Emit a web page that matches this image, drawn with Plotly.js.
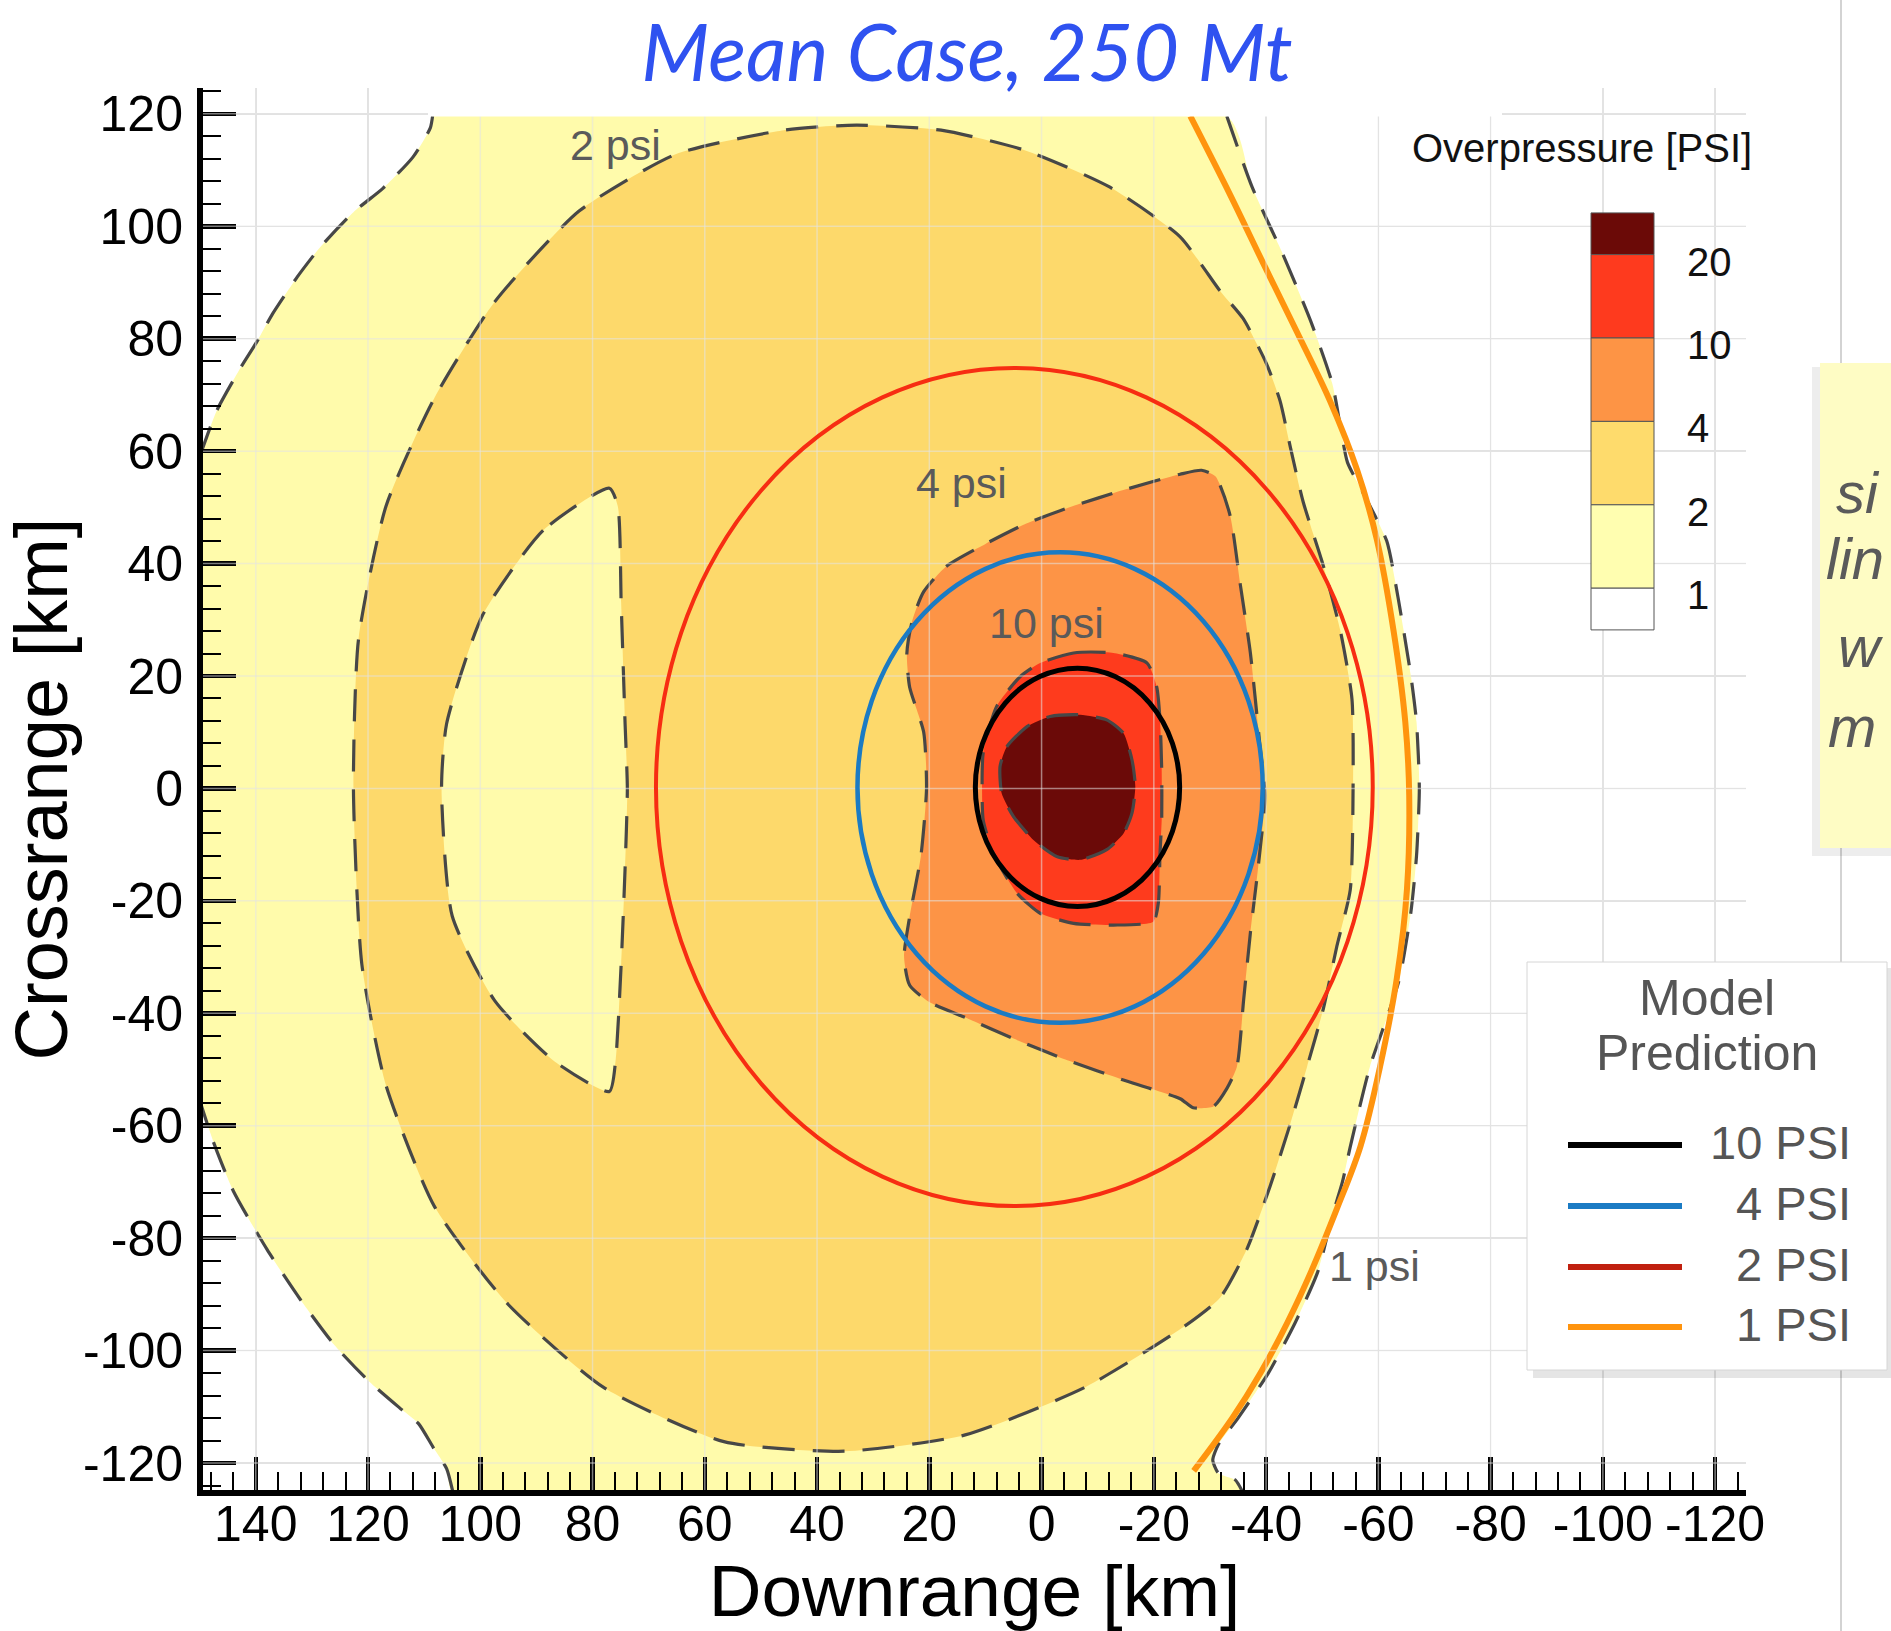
<!DOCTYPE html>
<html><head><meta charset="utf-8">
<script src="https://cdn.plot.ly/plotly-3.0.1.min.js"></script>
<style>html,body{margin:0;padding:0;background:#fff;}#chart{width:1891px;height:1631px;}</style>
</head><body><div id="chart"></div>
<script>
// ---------------- data (km) ----------------
const xTickVals = [140,120,100,80,60,40,20,0,-20,-40,-60,-80,-100,-120];
const xTickText = ['140','120','100','80','60','40','20','0','-20','-40','-60','-80','-100','-120'];
const yTickVals = [120,100,80,60,40,20,0,-20,-40,-60,-80,-100,-120];
const yTickText = ['120','100','80','60','40','20','0','-20','-40','-60','-80','-100','-120'];

// 1 psi contour (outer edge of the field), three pieces
const psi1TopLeftX = [150,146.9,142.6,139.9,136.9,132.6,128.5,122.6,117.3,112.0,108.9,108.5];
const psi1TopLeftY = [59,67.3,75.0,79.3,84.6,91.0,96.3,102.5,106.8,112.3,117.5,119.6];
const psi1RightX = [-33,-37.5,-43,-48,-51.8,-53.3,-54.5,-57.6,-61.5,-63.5,-65.8,-66.8,-67.3,-66.8,-65.8,-63.8,-61.8,-58.5,-55,-53.6,-51.8,-49.2,-45.2,-40.4,-35,-31.5,-30.5,-31.5,-34.5,-36];
const psi1RightY = [119.6,107,95,83,72,64,58,52,44,34,20,11.8,0,-12,-22,-33.7,-40,-49.5,-63.7,-70,-76,-86,-95,-104,-112,-116.7,-119.5,-121.8,-123,-125.5];
const psi1BottomLeftX = [104.8,106.0,108.4,111.0,114.0,120.0,126.0,132.0,138.0,144.0,147.5,150];
const psi1BottomLeftY = [-125.5,-121,-117.2,-113,-110.5,-105.3,-99,-91,-82,-71.6,-63,-55.5];

// 2 psi contour
const psi2X = [33,17.9,2.9,-12.1,-24.6,-31.8,-35.9,-40.1,-42.5,-44.3,-46.6,-50.2,-53.2,-55.3,-55.5,-55.0,-52.6,-50.2,-47.3,-44.3,-40.7,-36.6,-31.8,-25,-7.8,13.6,35.1,56.6,78.1,95.3,108.2,116.8,121.1,122.6,121.7,116.8,108.2,97.4,82.4,65.2,45.9];
const psi2Y = [118,117.1,113.5,107,98.2,88.5,83.6,75.5,68.9,60.8,51,39.6,28.2,15.9,0.4,-18,-28.1,-39.2,-49.5,-59.7,-70.8,-81.9,-90.6,-96,-106.5,-115,-117.9,-116.2,-106.5,-91.5,-74.3,-52.8,-31.3,0,26.5,50.2,69.4,86.6,102.7,112.8,117.1];

// lens of < 2 psi inside the 2 psi band
const lensX = [77,88.8,99.6,106,106.9,105,97.4,86.7,77,75.9,74.9,74.2,73.8,74.2,74.9,75.5];
const lensY = [53.4,45.9,30.8,11.5,0,-22.7,-37.8,-48.6,-53.9,-48.5,-31.3,-14.2,0,11.5,33,50.2];

// 4 psi contour
const psi4X = [21,17,10,3,-5,-15,-24.7,-28.5,-31,-33.6,-35.4,-37.2,-38.9,-39.8,-38.6,-37.2,-36,-34.8,-33,-30.6,-27,-24.7,-15,-5,5,13,20,23.5,24.5,23.5,21.5,20.5,21,23.5,24,23];
const psi4Y = [35,39.5,43.5,47,50,53.2,55.9,56.6,55.5,48.5,36.3,24.1,7.7,-1.3,-13.9,-25.7,-37.6,-49.5,-53.4,-56.6,-56.8,-55.2,-52,-48.5,-44.5,-41,-38,-35,-30,-22.8,-12,0,10,18,24,30];

// 10 psi contour
const psi10X = [0.25,-5.7,-12.8,-18.8,-20.5,-21.1,-21.4,-21.4,-21.1,-20.8,-19.9,-12.8,-5.7,0.25,4.4,8.6,10.4,10.6,10.4,8.0,3.8];
const psi10Y = [22.3,24.1,24.1,22.3,18.1,12.2,3.3,-5.6,-11.5,-20.4,-23.7,-24.3,-24.0,-22.2,-18.6,-11.5,-5.6,0.3,6.3,14.6,19.9];

// 20 psi contour
const psi20X = [7.4,6.2,2.6,-1.5,-6.9,-11.6,-14.6,-16.1,-16.7,-16.1,-14.6,-11.6,-6.9,-2.7,1.4,5.0,7.1];
const psi20Y = [3.9,7.4,11.0,12.8,13.1,12.2,9.8,5.1,0.3,-4.4,-8.0,-10.9,-12.7,-12.1,-9.2,-5.0,-0.9];

// model prediction curves
const modelNames = ['10 PSI','4 PSI','2 PSI','1 PSI'];
const ellipseX0 = [11.8, 32.8, 68.7];
const ellipseX1 = [-24.6, -39.4, -59.0];
const ellipseY0 = [-21.0, -41.7, -74.3];
const ellipseY1 = [21.4, 42.0, 74.8];
const model1X = [-26.5,-33.6,-39.5,-45.5,-51.4,-56.2,-59.7,-62.7,-64.8,-65.5,-65.1,-63.3,-60.3,-56.8,-52.6,-48.0,-43.8,-39.0,-34.0,-27.1];
const model1Y = [119.6,105.6,93.4,81.2,68.9,56.7,44.4,28.1,11.8,-1.3,-17.9,-33.7,-49.5,-63.7,-74.8,-86,-95,-104,-112,-121.4];

// contour labels
const labelText = ['2 psi','4 psi','10 psi','1 psi'];
const labelX = [75.9, 14.3, -0.9, -59.4];
const labelY = [114.5, 54.4, 29.4, -85];

// colour bar
const cbTitle = 'Overpressure [PSI]';
const cbLabels = ['20','10','4','2','1'];

// note on the right of the slide
const noteLines = ['si','lin','w','m'];

// ---------------- styles ----------------
const C = {light:'#FFFBAB', yel:'#FDD96B', org:'#FD9446', red:'#FE3B1D', dark:'#6B0A08'};
const cbColors = ['#6B0A07','#FE3A1E','#FD9445','#FEDB6C','#FFFEB0','#FFFFFF'];
const modelColors = ['#000000','#1b7bc4','#f72d12','#ff940e'];
const legendColors = ['#000000','#1b7bc4','#c0200f','#ff940e'];
const modelWidths = [5,4.5,4,6];
const DASH = {color:'#474747', width:3.2, dash:'32px,18px'};

const L=203, R=1746, T=88, B=1490, W=R-L, H=B-T;
const px = X => (X-L)/W;
const py = Y => (B-Y)/H;

const traces = [];
traces.push({type:'scatter', mode:'lines', fill:'toself', fillcolor:C.light, line:{width:0, shape:'spline', smoothing:0.6},
  x:[].concat(psi1TopLeftX, psi1RightX, psi1BottomLeftX), y:[].concat(psi1TopLeftY, psi1RightY, psi1BottomLeftY), hoverinfo:'skip', showlegend:false});
[[psi1TopLeftX,psi1TopLeftY],[psi1RightX,psi1RightY],[psi1BottomLeftX,psi1BottomLeftY]].forEach(p=>{
  traces.push({type:'scatter', mode:'lines', x:p[0], y:p[1], line:Object.assign({shape:'spline', smoothing:0.6}, DASH), hoverinfo:'skip', showlegend:false});
});
function region(xs, ys, col){
  traces.push({type:'scatter', mode:'lines', fill:'toself', fillcolor:col, x:xs.concat([xs[0]]), y:ys.concat([ys[0]]),
    line:Object.assign({shape:'spline', smoothing:0.6}, DASH), hoverinfo:'skip', showlegend:false});
}
region(psi2X, psi2Y, C.yel);
region(lensX, lensY, C.light);
region(psi4X, psi4Y, C.org);
region(psi10X, psi10Y, C.red);
region(psi20X, psi20Y, C.dark);
traces.push({type:'scatter', mode:'lines', x:model1X, y:model1Y, name:modelNames[3],
  line:{color:modelColors[3], width:modelWidths[3], shape:'spline', smoothing:1}, hoverinfo:'skip', showlegend:false});

const shapes = [];
xTickVals.forEach(v=>shapes.push({type:'line', layer:'above', xref:'x', yref:'paper', x0:v, x1:v, y0:0, y1:1, line:{color:'rgba(228,228,228,0.55)', width:1.5}}));
yTickVals.forEach(v=>shapes.push({type:'line', layer:'above', xref:'paper', yref:'y', x0:0, x1:1, y0:v, y1:v, line:{color:'rgba(228,228,228,0.55)', width:1.5}}));
for(let i=0;i<3;i++){
  shapes.push({type:'circle', layer:'above', xref:'x', yref:'y', x0:ellipseX0[i], x1:ellipseX1[i], y0:ellipseY0[i], y1:ellipseY1[i],
    line:{color:modelColors[i], width:modelWidths[i]}});
}
shapes.push({type:'rect', layer:'above', xref:'paper', yref:'paper', x0:px(428), x1:px(1502), y0:py(116.5), y1:py(80), fillcolor:'#ffffff', line:{width:0}});
shapes.push({type:'line', layer:'above', xref:'paper', yref:'paper', x0:px(1841), x1:px(1841), y0:py(1631), y1:py(0), line:{color:'#c4c4c4', width:1.5}});
shapes.push({type:'rect', layer:'above', xref:'paper', yref:'paper', x0:px(1812), x1:px(1895), y0:py(856), y1:py(367), fillcolor:'rgba(0,0,0,0.07)', line:{width:0}});
shapes.push({type:'rect', layer:'above', xref:'paper', yref:'paper', x0:px(1820), x1:px(1895), y0:py(848), y1:py(363), fillcolor:'#FEFCC4', line:{width:0}});
const cbTop=212.9, cbBand=83.4, cbL=1591, cbR=1654;
for(let i=0;i<6;i++){
  const y0 = i===0 ? cbTop : cbTop + cbBand/2 + (i-1)*cbBand;
  const y1 = (i===0) ? cbTop + cbBand/2 : (i===5 ? y0 + cbBand/2 : y0 + cbBand);
  shapes.push({type:'rect', layer:'above', xref:'paper', yref:'paper', x0:px(cbL), x1:px(cbR), y0:py(y1), y1:py(y0),
    fillcolor:cbColors[i], line:{color:'#555', width:1}});
}
shapes.push({type:'rect', layer:'above', xref:'paper', yref:'paper', x0:px(1533), x1:px(1893), y0:py(1378), y1:py(968), fillcolor:'rgba(0,0,0,0.10)', line:{width:0}});
shapes.push({type:'rect', layer:'above', xref:'paper', yref:'paper', x0:px(1527), x1:px(1887), y0:py(1370), y1:py(962), fillcolor:'#ffffff', line:{color:'#d6d6d6', width:1}});
const legY = [1145, 1206, 1267, 1327];
for(let i=0;i<4;i++){
  shapes.push({type:'line', layer:'above', xref:'paper', yref:'paper', x0:px(1568), x1:px(1682), y0:py(legY[i]), y1:py(legY[i]), line:{color:legendColors[i], width:6}});
}

const annotations = [];
const FONT = 'Liberation Sans, Arial, Helvetica, sans-serif';
for(let i=0;i<labelText.length;i++){
  annotations.push({xref:'x', yref:'y', x:labelX[i], y:labelY[i], text:labelText[i], showarrow:false, font:{family:FONT, size:43, color:'#5a5a5a'}});
}
annotations.push({xref:'paper', yref:'paper', x:px(1410), y:py(148), xanchor:'left', yanchor:'middle', text:cbTitle, showarrow:false, font:{family:FONT, size:40, color:'#111'}});
for(let i=0;i<5;i++){
  annotations.push({xref:'paper', yref:'paper', x:px(1685), y:py(cbTop + cbBand/2 + i*cbBand + 7), xanchor:'left', yanchor:'middle', text:cbLabels[i], showarrow:false, font:{family:FONT, size:40, color:'#111'}});
}
annotations.push({xref:'paper', yref:'paper', x:px(1707), y:py(998), xanchor:'center', yanchor:'middle', text:'Model', showarrow:false, font:{family:FONT, size:50, color:'#555'}});
annotations.push({xref:'paper', yref:'paper', x:px(1707), y:py(1053), xanchor:'center', yanchor:'middle', text:'Prediction', showarrow:false, font:{family:FONT, size:50, color:'#555'}});
for(let i=0;i<4;i++){
  annotations.push({xref:'paper', yref:'paper', x:px(1853), y:py(legY[i]-3), xanchor:'right', yanchor:'middle', text:modelNames[i], showarrow:false, font:{family:FONT, size:47, color:'#555'}});
}
const noteX = [1834,1824,1836,1826], noteY=[493,558,646,726];
for(let i=0;i<4;i++){
  annotations.push({xref:'paper', yref:'paper', x:px(noteX[i]), y:py(noteY[i]), xanchor:'left', yanchor:'middle', text:noteLines[i], showarrow:false, font:{family:FONT, size:58, color:'#5a5a5a', style:'italic'}});
}

const axisCommon = {
  ticks:'inside', ticklen:33, tickwidth:4.5, tickcolor:'#000',
  showline:true, linewidth:6, linecolor:'#000', mirror:false, zeroline:false,
  showgrid:true, gridcolor:'#e2e2e2', gridwidth:1.5,
  tickfont:{family:FONT, size:50, color:'#000'}, tickmode:'array', fixedrange:true,
  minor:{dtick:4, tick0:0, ticks:'inside', ticklen:18, tickwidth:2, tickcolor:'#000', showgrid:false}
};
const layout = {
  width:1891, height:1631,
  margin:{l:L, r:1891-R, t:T, b:1631-B, pad:0},
  paper_bgcolor:'#ffffff', plot_bgcolor:'#ffffff',
  font:{family:FONT, color:'#000'},
  showlegend:false,
  title:{text:'Mean Case, 250 Mt', font:{family:'Lato, Open Sans, sans-serif', size:79, color:'#2f52f0', style:'italic'},
    x:967/1891, xref:'container', xanchor:'center', y:1-53/1631, yref:'container', yanchor:'middle'},
  xaxis:Object.assign({}, axisCommon, {range:[149.4,-125.5], tickvals:xTickVals, ticktext:xTickText, ticklabelstandoff:-15,
    title:{text:'Downrange [km]', font:{family:FONT, size:73, color:'#000'}, standoff:27}}),
  yaxis:Object.assign({}, axisCommon, {range:[-124.8,124.6], tickvals:yTickVals, ticktext:yTickText, ticklabelstandoff:4,
    title:{text:'Crossrange [km]', font:{family:FONT, size:74, color:'#000'}, standoff:0}}),
  shapes:shapes, annotations:annotations
};
Plotly.newPlot('chart', traces, layout, {displayModeBar:false, staticPlot:true});
</script></body></html>
